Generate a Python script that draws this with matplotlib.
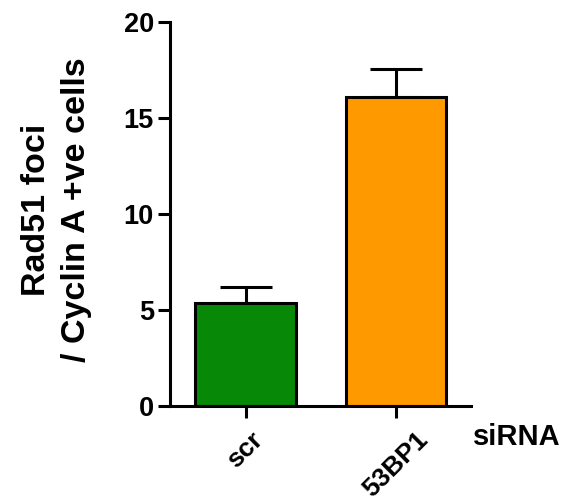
import matplotlib
matplotlib.use("Agg")
import matplotlib.pyplot as plt
import numpy as np

categories = ["scr", "53BP1"]
means = [5.36, 16.1]
sem_up = [0.86, 1.46]
colors = ["#078807", "#FF9900"]
yticks = [0, 5, 10, 15, 20]
ylabel = "Rad51 foci\n/ Cyclin A +ve cells"
xtitle = "siRNA"

plt.rcParams['font.family'] = ['Liberation Sans', 'DejaVu Sans']
plt.rcParams['font.weight'] = 'bold'

fig = plt.figure(figsize=(5.66, 5.04), dpi=100)
ax = fig.add_axes([0.3004, 0.1944, 0.5318, 0.7611])

x = np.arange(len(categories))
lw = 2.2
ax.bar(x, means, width=0.667, color=colors, edgecolor='black', linewidth=lw, zorder=2)
ax.errorbar(x, means, yerr=[np.zeros(len(means)), sem_up], fmt='none', ecolor='black',
            elinewidth=lw, capsize=18.4, capthick=lw, zorder=1)

ax.set_xlim(-0.503, 1.503)
ax.set_ylim(0, 20)
ax.set_yticks(yticks)
ax.set_xticks(x)
ax.set_xticklabels(categories, rotation=45, ha='center', va='top', fontsize=19, fontweight='bold')
ax.tick_params(axis='y', labelsize=19.5, length=8.6, width=lw, pad=3)
ax.tick_params(axis='x', length=8.6, width=lw, pad=7)
for lab in ax.get_yticklabels():
    lab.set_fontweight('bold')

for s in ['top', 'right']:
    ax.spines[s].set_visible(False)
for s in ['left', 'bottom']:
    ax.spines[s].set_linewidth(lw)

ax.set_ylabel(ylabel, fontsize=24.5, fontweight='bold', linespacing=1.38)
ax.yaxis.set_label_coords(-0.258, 0.512)
ax.text(1.005, -0.08, xtitle, transform=ax.transAxes, fontsize=21, fontweight='bold',
        ha='left', va='center')

fig.savefig("out.png", dpi=100)
